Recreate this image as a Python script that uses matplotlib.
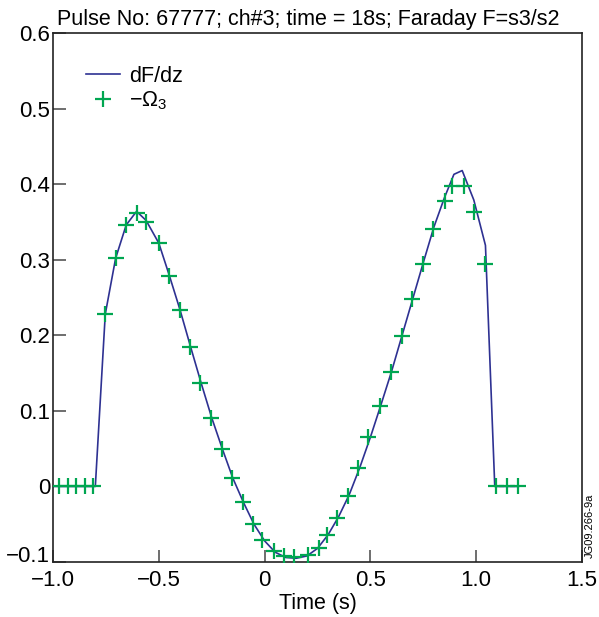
import matplotlib
matplotlib.use("Agg")
import matplotlib.pyplot as plt
import matplotlib.transforms as mtransforms

plt.rcParams['font.family'] = ['Liberation Sans', 'DejaVu Sans']
plt.rcParams['mathtext.fontset'] = 'custom'
plt.rcParams['mathtext.rm'] = 'Liberation Sans'
plt.rcParams['mathtext.it'] = 'Liberation Sans'

# -Omega_3 measurements (green crosses)
omega_t = [-0.97, -0.93, -0.89, -0.85, -0.81,
           -0.753, -0.704, -0.654, -0.602, -0.56, -0.501, -0.45, -0.399,
           -0.352, -0.303, -0.253, -0.203, -0.156, -0.104, -0.053, -0.01,
           0.0425, 0.0896, 0.137, 0.203, 0.255, 0.297, 0.344, 0.394,
           0.443, 0.491, 0.544, 0.596, 0.648, 0.698, 0.749, 0.796, 0.851,
           0.887, 0.942, 0.989, 1.044, 1.092, 1.144, 1.196]
omega_v = [0.0, 0.0, 0.0, 0.0, 0.0,
           0.228, 0.302, 0.346, 0.362, 0.350, 0.3215, 0.278, 0.2335,
           0.184, 0.137, 0.0906, 0.050, 0.0106, -0.0207, -0.050, -0.071,
           -0.0853, -0.092, -0.093, -0.091, -0.081, -0.0646, -0.0413, -0.012,
           0.0247, 0.065, 0.107, 0.151, 0.1996, 0.2476, 0.295, 0.341, 0.378,
           0.398, 0.397, 0.363, 0.294, 0.0, 0.0, 0.0]

# dF/dz curve (blue line)
dfdz_t = [-1.0, -0.80, -0.753, -0.704, -0.654, -0.605, -0.56, -0.50, -0.45,
          -0.40, -0.35, -0.30, -0.25, -0.20, -0.15, -0.10, -0.05, 0.0, 0.05,
          0.10, 0.15, 0.20, 0.25, 0.30, 0.35, 0.40, 0.45, 0.50, 0.55, 0.60,
          0.65, 0.70, 0.75, 0.80, 0.85, 0.895, 0.934, 0.989, 1.044, 1.088, 1.2]
dfdz_v = [0.0, 0.0, 0.228, 0.302, 0.346, 0.364, 0.352, 0.322, 0.279,
          0.234, 0.185, 0.137, 0.091, 0.050, 0.011, -0.021, -0.050, -0.072, -0.087,
          -0.094, -0.095, -0.092, -0.082, -0.064, -0.040, -0.011, 0.025, 0.065,
          0.108, 0.152, 0.200, 0.248, 0.296, 0.343, 0.382, 0.413, 0.418, 0.379,
          0.319, 0.0, 0.0]

fig = plt.figure(figsize=(5.99, 6.17), dpi=100)
ax = fig.add_axes([0.0885, 0.0891, 0.883, 0.8574])

ax.plot(dfdz_t, dfdz_v, color='#2e3192', lw=1.2, label='dF/dz', zorder=2)
ax.plot(omega_t, omega_v, ls='none', marker='+', ms=12, mew=1.6,
        color='#00a651', label=r'$-\Omega_3$', zorder=3)

ax.set_xlim(-1.0, 1.5)
ax.set_ylim(-0.1, 0.6)
ax.set_xticks([-1.0, -0.5, 0, 0.5, 1.0, 1.5])
ax.set_xticklabels(['\u22121.0', '\u22120.5', '0', '0.5', '1.0', '1.5'])
ax.set_yticks([-0.1, 0, 0.1, 0.2, 0.3, 0.4, 0.5, 0.6])
ax.set_yticklabels(['\u22120.1', '0', '0.1', '0.2', '0.3', '0.4', '0.5', '0.6'])
ax.tick_params(direction='in', length=9, width=1.2, color='#555555',
               labelsize=16)
ax.tick_params(axis='x', pad=6)
ax.tick_params(axis='y', pad=2)
for s in ax.spines.values():
    s.set_linewidth(1.2)
    s.set_color('#222222')

# bottom y label sits a little higher, clear of the x labels
lab = ax.get_yticklabels()[0]
lab.set_transform(lab.get_transform() +
                  mtransforms.ScaledTranslation(0, 6 / 72, fig.dpi_scale_trans))

ax.set_xlabel('Time (s)', fontsize=15.5, labelpad=1)
ax.set_title('Pulse No: 67777; ch#3; time = 18s; Faraday F=s3/s2',
             fontsize=15.5, pad=6, x=0.483)

ax.legend(loc='upper left', bbox_to_anchor=(0.025, 0.975), frameon=False,
          fontsize=15.5, handlelength=1.6, handletextpad=0.4, labelspacing=0.15)

fig.text(0.985, 0.148, 'JG09.266-9a', rotation=90, fontsize=8,
         ha='center', va='center')

fig.savefig('out.png', dpi=100)
